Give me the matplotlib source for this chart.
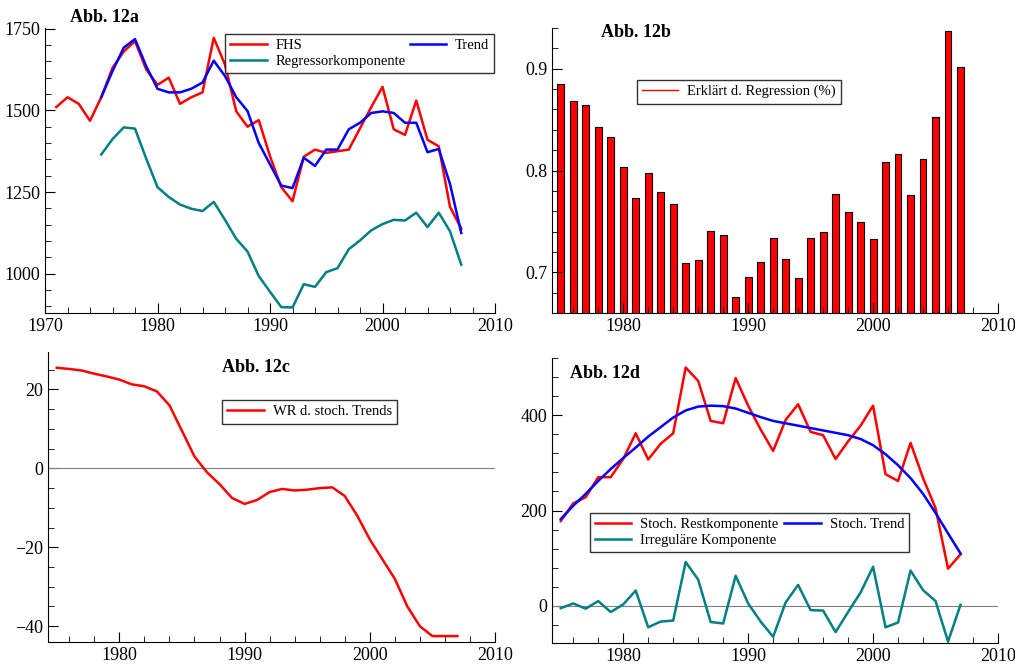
import matplotlib
matplotlib.use("Agg")
import matplotlib.pyplot as plt
from matplotlib.ticker import MultipleLocator

plt.rcParams['font.family'] = ['Liberation Serif', 'DejaVu Serif']
plt.rcParams['font.size'] = 12

years_a = list(range(1971, 2008))
fhs = [1510,1540,1520,1468,1540,1630,1680,1712,1625,1578,1600,1520,1540,1555,1722,1640,1497,1450,1470,1360,1265,1222,1358,1380,1370,1375,1380,1445,1510,1572,1442,1425,1530,1410,1390,1205,1138]
years = list(range(1975, 2008))
trend = [1540,1620,1692,1718,1635,1566,1555,1555,1566,1585,1652,1605,1540,1498,1400,1335,1270,1262,1355,1330,1380,1380,1442,1462,1492,1497,1492,1462,1462,1372,1382,1275,1125]
regr = [1365,1412,1448,1444,1352,1265,1235,1212,1199,1192,1220,1165,1107,1068,993,945,898,897,968,960,1005,1017,1075,1102,1133,1152,1165,1163,1187,1143,1187,1130,1028]
erkl = [0.885,0.868,0.864,0.843,0.833,0.803,0.773,0.798,0.779,0.767,0.709,0.712,0.741,0.737,0.676,0.695,0.710,0.734,0.713,0.694,0.734,0.740,0.777,0.759,0.749,0.733,0.808,0.816,0.776,0.811,0.853,0.937,0.902]
wr = [25.5,25.2,24.8,24,23.3,22.5,21.3,20.8,19.5,16,9.5,3,-1,-4,-7.5,-9,-8,-6,-5.2,-5.6,-5.4,-5,-4.8,-7,-12,-18,-23,-28,-35,-40,-42.5,-42.5,-42.5]
rest = [178,215,228,270,270,308,362,307,340,362,500,472,388,383,478,420,370,325,390,423,365,358,308,345,378,420,276,262,342,268,205,78,108]
strend = [182,210,235,262,287,310,332,355,375,395,410,418,420,419,414,405,396,388,383,378,373,368,363,358,350,337,318,295,268,235,195,152,110]
irreg = [-5,5,-6,10,-13,3,32,-45,-33,-31,92,55,-34,-37,63,5,-33,-65,7,44,-9,-10,-55,-13,28,82,-45,-35,74,33,10,-75,2]

W, H = 1015, 668
fig = plt.figure(figsize=(W/100, H/100), dpi=100)
def ax_px(l, t, r, b):
    return fig.add_axes([l/W, 1-b/H, (r-l)/W, (b-t)/H])

RED = '#ff0000'; BLUE = '#0000ff'; TEAL = '#008080'

def style(ax):
    ax.spines['top'].set_visible(False)
    ax.spines['right'].set_visible(False)
    ax.tick_params(which='both', direction='in', labelsize=13)
    ax.tick_params(which='major', length=7)
    ax.tick_params(which='minor', length=4)
    ax.xaxis.set_major_locator(MultipleLocator(10))
    ax.xaxis.set_minor_locator(MultipleLocator(2))

def leg(ax, **kw):
    l = ax.legend(frameon=True, fancybox=False, edgecolor='black', fontsize=10.5,
                  handlelength=2.5, borderpad=0.35, labelspacing=0.15, handletextpad=0.6,
                  borderaxespad=0, loc='upper left', **kw)
    l.get_frame().set_linewidth(1.0)
    return l

# a
ax = ax_px(45, 28, 495, 313)
style(ax)
ax.plot(years_a, fhs, color=RED, lw=1.8, label='FHS')
ax.plot(years, trend, color=BLUE, lw=1.8, label='Trend')
ax.plot(years, regr, color=TEAL, lw=1.8, label='Regressorkomponente')
ax.set_xlim(1970, 2010); ax.set_ylim(880, 1752)
ax.yaxis.set_major_locator(MultipleLocator(250)); ax.yaxis.set_minor_locator(MultipleLocator(50))
h, lb = ax.get_legend_handles_labels()
leg(ax, handles=[h[0], h[2], h[1]], labels=[lb[0], lb[2], lb[1]], ncol=2,
    bbox_to_anchor=(0.4, 0.979), columnspacing=0.3)
ax.text(0.055, 1.02, 'Abb. 12a', transform=ax.transAxes, fontsize=13, fontweight='bold')

# b
ax = ax_px(552, 28, 998, 313)
style(ax)
ax.bar(years, [v - 0.66 for v in erkl], bottom=0.66, width=0.55, color=RED, edgecolor='black', lw=0.8)
ax.plot([], [], color=RED, lw=1, label='Erklärt d. Regression (%)')
ax.set_xlim(1974.3, 2010); ax.set_ylim(0.66, 0.94)
ax.yaxis.set_major_locator(MultipleLocator(0.1)); ax.yaxis.set_minor_locator(MultipleLocator(0.02))
ax.set_yticks([0.7, 0.8, 0.9]); ax.set_yticklabels(['0.7', '0.8', '0.9'])
leg(ax, bbox_to_anchor=(0.19, 0.818))
ax.text(0.11, 0.97, 'Abb. 12b', transform=ax.transAxes, fontsize=13, fontweight='bold')

# c
ax = ax_px(48, 352, 495, 642)
style(ax)
ax.axhline(0, color='gray', lw=0.8)
ax.plot(years, wr, color=RED, lw=1.8, label='WR d. stoch. Trends')
ax.set_xlim(1974.3, 2010); ax.set_ylim(-44, 29.5)
ax.yaxis.set_major_locator(MultipleLocator(20)); ax.yaxis.set_minor_locator(MultipleLocator(5))
leg(ax, bbox_to_anchor=(0.39, 0.834))
ax.text(0.39, 0.93, 'Abb. 12c', transform=ax.transAxes, fontsize=13, fontweight='bold')

# d
ax = ax_px(552, 358, 998, 643)
style(ax)
ax.axhline(0, color='gray', lw=0.8)
ax.plot(years, rest, color=RED, lw=1.8, label='Stoch. Restkomponente')
ax.plot(years, strend, color=BLUE, lw=1.8, label='Stoch. Trend')
ax.plot(years, irreg, color=TEAL, lw=1.8, label='Irreguläre Komponente')
ax.set_xlim(1974.3, 2010); ax.set_ylim(-78, 520)
ax.yaxis.set_major_locator(MultipleLocator(200)); ax.yaxis.set_minor_locator(MultipleLocator(40))
h, lb = ax.get_legend_handles_labels()
leg(ax, handles=[h[0], h[2], h[1]], labels=[lb[0], lb[2], lb[1]], ncol=2,
    bbox_to_anchor=(0.085, 0.456), columnspacing=0.4)
ax.text(0.04, 0.93, 'Abb. 12d', transform=ax.transAxes, fontsize=13, fontweight='bold')

fig.savefig('out.png', dpi=100)
